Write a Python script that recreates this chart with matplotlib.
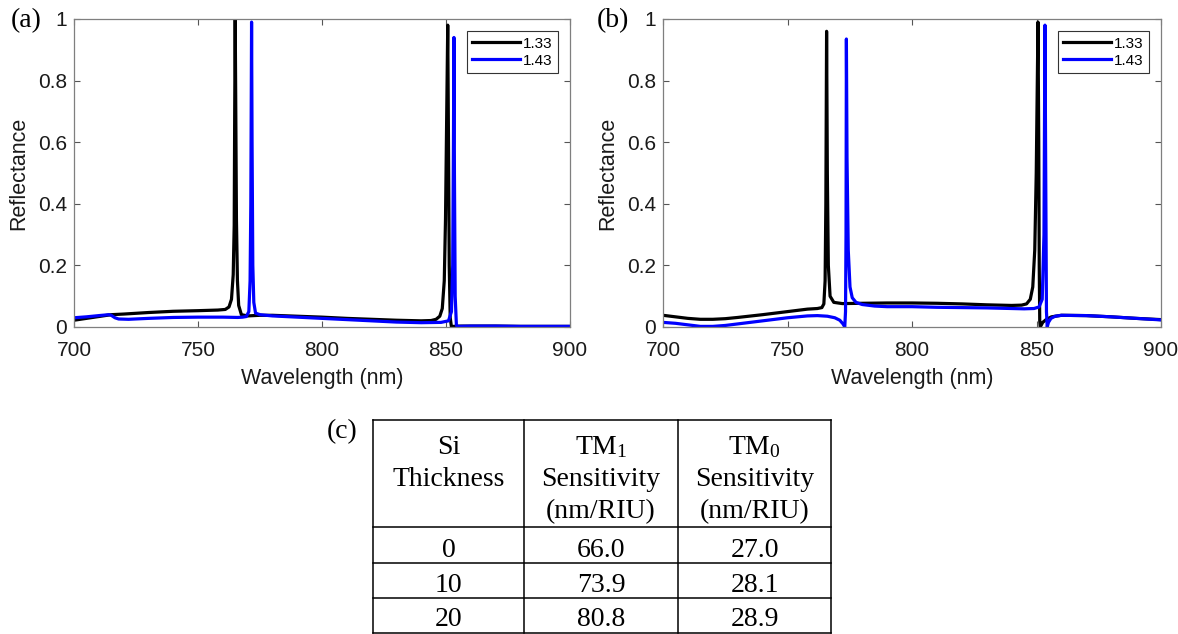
import matplotlib
matplotlib.use("Agg")
import matplotlib.pyplot as plt

plt.rcParams['font.family'] = ['Liberation Sans', 'DejaVu Sans']
plt.rcParams['mathtext.fontset'] = 'custom'
plt.rcParams['mathtext.rm'] = 'Liberation Serif'
plt.rcParams['mathtext.it'] = 'Liberation Serif:italic'

# ---------------- data ----------------
# Panel (a): reflectance spectra, cladding index 1.33 and 1.43
a_wl_133 = [700, 705, 710, 715, 720, 730, 740, 750, 758, 761, 762.5, 763.5, 764.2,
            764.6, 764.8, 765.0, 765.2, 765.5, 765.9, 766.4, 767.5, 770, 775, 780,
            790, 800, 810, 820, 830, 840, 844, 846, 847.5, 848.5, 849.3, 849.8,
            850.3, 850.7, 851.0, 851.3, 851.7, 852.2, 853, 856, 860, 870, 880, 890, 900]
a_r_133 = [0.022, 0.028, 0.034, 0.040, 0.042, 0.047, 0.051, 0.053, 0.055, 0.057,
           0.065, 0.09, 0.17, 0.33, 0.70, 1.0, 0.75, 0.35, 0.15, 0.07, 0.04, 0.036,
           0.038, 0.038, 0.035, 0.032, 0.028, 0.025, 0.022, 0.020, 0.021, 0.025,
           0.035, 0.06, 0.15, 0.35, 0.70, 0.98, 0.60, 0.20, 0.03, 0.0, 0.002,
           0.003, 0.003, 0.003, 0.002, 0.002, 0.002]
a_wl_143 = [700, 705, 710, 714, 715, 716.5, 718, 722, 730, 740, 750, 760, 766, 768,
            769.5, 770.5, 771.0, 771.3, 771.6, 771.8, 772.1, 772.5, 773.2, 775, 780,
            790, 800, 810, 820, 830, 840, 848, 851, 852.2, 852.7, 853.0, 853.2,
            853.4, 853.7, 854.2, 855, 860, 870, 880, 890, 900]
a_r_143 = [0.030, 0.033, 0.037, 0.040, 0.038, 0.030, 0.026, 0.025, 0.028, 0.031,
           0.032, 0.032, 0.031, 0.032, 0.034, 0.05, 0.15, 0.40, 0.99, 0.60, 0.20,
           0.08, 0.045, 0.040, 0.036, 0.032, 0.028, 0.024, 0.020, 0.016, 0.014,
           0.015, 0.020, 0.05, 0.20, 0.60, 0.94, 0.50, 0.10, 0.005, 0.002, 0.003,
           0.003, 0.002, 0.002, 0.002]

# Panel (b)
b_wl_133 = [700, 705, 710, 715, 720, 725, 730, 740, 750, 758, 762, 763.8, 764.6,
            765.1, 765.4, 765.7, 766.0, 766.4, 767.1, 768.6, 772, 780, 790, 800, 810,
            820, 830, 840, 844, 846, 847.5, 848.5, 849.3, 849.9, 850.6, 850.9,
            851.1, 851.3, 851.5, 852.5, 854, 856, 860, 870, 880, 890, 900]
b_r_133 = [0.038, 0.033, 0.028, 0.025, 0.025, 0.027, 0.031, 0.040, 0.050, 0.058,
           0.060, 0.063, 0.075, 0.15, 0.40, 0.96, 0.50, 0.20, 0.10, 0.080, 0.076,
           0.077, 0.078, 0.078, 0.077, 0.075, 0.072, 0.070, 0.071, 0.075, 0.09,
           0.13, 0.25, 0.50, 0.99, 0.60, 0.20, 0.02, 0.0, 0.015, 0.025, 0.033,
           0.038, 0.037, 0.033, 0.028, 0.024]
b_wl_143 = [700, 705, 710, 715, 720, 725, 730, 740, 750, 758, 762, 766, 769, 771,
            772.3, 773.0, 773.3, 773.5, 773.65, 773.9, 774.4, 775.1, 776, 777.5, 780,
            785, 790, 800, 810, 820, 830, 840, 845, 849, 851, 852.3, 853.0, 853.4,
            853.7, 854.0, 854.3, 854.8, 855.8, 857.5, 860, 870, 880, 890, 900]
b_r_143 = [0.015, 0.012, 0.007, 0.002, 0.002, 0.005, 0.010, 0.020, 0.030, 0.036,
           0.037, 0.035, 0.030, 0.022, 0.010, 0.0, 0.05, 0.30, 0.935, 0.55, 0.25,
           0.13, 0.095, 0.080, 0.073, 0.068, 0.066, 0.066, 0.064, 0.063, 0.062,
           0.060, 0.059, 0.060, 0.065, 0.09, 0.30, 0.98, 0.50, 0.05, 0.0, 0.015,
           0.028, 0.035, 0.038, 0.037, 0.033, 0.028, 0.023]

series_labels = ['1.33', '1.43']
series_colors = ['black', '#0000FF']

x_ticks = [700, 750, 800, 850, 900]
y_ticks = [0, 0.2, 0.4, 0.6, 0.8, 1]
y_tick_labels = ['0', '0.2', '0.4', '0.6', '0.8', '1']

# Table (c)
table_header = [['Si', 'Thickness'],
                ['TM$_1$', 'Sensitivity', '(nm/RIU)'],
                ['TM$_0$', 'Sensitivity', '(nm/RIU)']]
si_thickness = ['0', '10', '20']
tm1_sensitivity = [66.0, 73.9, 80.8]
tm0_sensitivity = [27.0, 28.1, 28.9]

# ---------------- figure ----------------
W, H = 1178, 634
fig = plt.figure(figsize=(W / 100, H / 100), dpi=100)


def px_axes(x0, y0, x1, y1):
    return fig.add_axes([x0 / W, 1 - y1 / H, (x1 - x0) / W, (y1 - y0) / H])


def spectrum_panel(ax, curves):
    for (wl, r), lab, col in zip(curves, series_labels, series_colors):
        ax.plot(wl, r, color=col, lw=2.3, label=lab, solid_joinstyle='round')
    ax.set_xlim(700, 900)
    ax.set_ylim(0, 1)
    ax.set_xticks(x_ticks)
    ax.set_yticks(y_ticks)
    ax.set_yticklabels(y_tick_labels)
    ax.tick_params(direction='in', top=True, right=True, length=4,
                   width=0.8, color='#555555', labelsize=15, labelcolor='#1a1a1a')
    ax.tick_params(axis='x', pad=10)
    ax.tick_params(axis='y', pad=5)
    for s in ax.spines.values():
        s.set_color('#7f7f7f')
        s.set_linewidth(0.9)
    ax.set_xlabel('Wavelength (nm)', fontsize=15.5, labelpad=6, color='#1a1a1a')
    ax.set_ylabel('Reflectance', fontsize=15.5, labelpad=6, color='#1a1a1a')
    leg = ax.legend(loc='upper right', fontsize=11, handlelength=3.1,
                    borderpad=0.35, labelspacing=0.2, handletextpad=0.2,
                    fancybox=False, framealpha=1, borderaxespad=0.8)
    leg.get_frame().set_edgecolor('#333333')
    leg.get_frame().set_linewidth(0.8)


ax_a = px_axes(74, 19, 570, 327)
spectrum_panel(ax_a, [(a_wl_133, a_r_133), (a_wl_143, a_r_143)])
ax_b = px_axes(663, 19, 1161, 327)
spectrum_panel(ax_b, [(b_wl_133, b_r_133), (b_wl_143, b_r_143)])

serif = ['Liberation Serif', 'DejaVu Serif']
fig.text(26 / W, 1 - 21 / H, '(a)', family=serif, fontsize=20, va='center', ha='center')
fig.text(613 / W, 1 - 21 / H, '(b)', family=serif, fontsize=20, va='center', ha='center')
fig.text(342 / W, 1 - 432 / H, '(c)', family=serif, fontsize=20, va='center', ha='center')

# ---------------- table ----------------
tx0, tx1, ty0, ty1 = 373, 831, 420, 632.5
ax_t = px_axes(tx0, ty0, tx1, ty1)
ax_t.set_xlim(tx0, tx1)
ax_t.set_ylim(ty1, ty0)
ax_t.axis('off')
col_edges = [373, 524, 678, 831]
row_edges = [420, 527, 563, 598, 632.5]
for x in col_edges:
    ax_t.plot([x, x], [ty0, ty1], color='black', lw=1.1, clip_on=False,
              solid_capstyle='projecting')
for y in row_edges:
    ax_t.plot([tx0, tx1], [y, y], color='black', lw=1.1, clip_on=False,
              solid_capstyle='projecting')

header_baselines = [454, 486, 518]
for j, lines in enumerate(table_header):
    xc = (col_edges[j] + col_edges[j + 1]) / 2
    for k, line in enumerate(lines):
        ax_t.text(xc, header_baselines[k], line, family=serif, fontsize=20,
                  ha='center', va='baseline')

data_rows = [[t, f'{a:.1f}', f'{b:.1f}']
             for t, a, b in zip(si_thickness, tm1_sensitivity, tm0_sensitivity)]
for i, row in enumerate(data_rows):
    base = row_edges[i + 2] - 6
    for j, txt in enumerate(row):
        xc = (col_edges[j] + col_edges[j + 1]) / 2
        ax_t.text(xc, base, txt, family=serif, fontsize=20,
                  ha='center', va='baseline')

fig.savefig('out.png', dpi=100)
